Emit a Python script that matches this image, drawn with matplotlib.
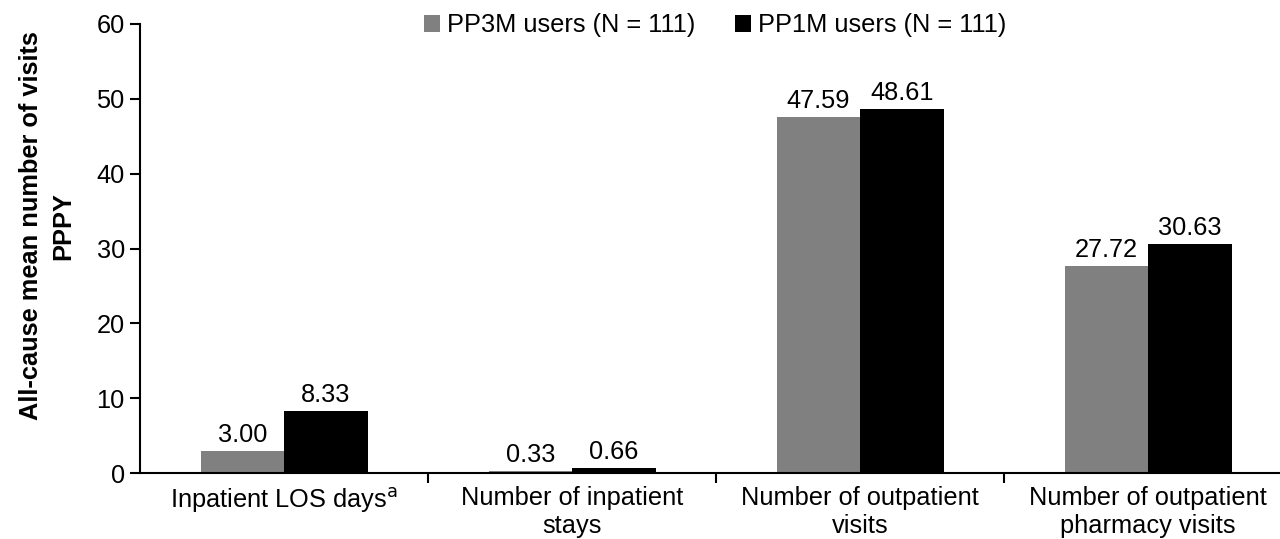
import numpy as np
import matplotlib.pyplot as plt

plt.rcParams['font.family'] = ['Liberation Sans', 'DejaVu Sans']

categories = ["Inpatient LOS days$^{\\mathrm{a}}$", "Number of inpatient\nstays",
              "Number of outpatient\nvisits", "Number of outpatient\npharmacy visits"]
pp3m = [3.00, 0.33, 47.59, 27.72]
pp1m = [8.33, 0.66, 48.61, 30.63]
series_names = ["PP3M users (N = 111)", "PP1M users (N = 111)"]

FS = 18.3

fig = plt.figure(figsize=(12.8, 5.39), dpi=100)
ax = fig.add_axes([0.1094, 0.1224, 0.8906, 0.8331])

x = np.arange(len(categories))
w = 0.29
b1 = ax.bar(x - w / 2, pp3m, w, color='#808080', label=series_names[0])
b2 = ax.bar(x + w / 2, pp1m, w, color='black', label=series_names[1])

for bars, vals in ((b1, pp3m), (b2, pp1m)):
    for bar, v in zip(bars, vals):
        ax.text(bar.get_x() + bar.get_width() / 2, v + 0.5, f"{v:.2f}",
                ha='center', va='bottom', fontsize=FS)

ax.set_xlim(-0.5, 3.458)
ax.set_ylim(0, 60)
ax.set_yticks(range(0, 61, 10))
ax.tick_params(axis='y', labelsize=FS, length=7, width=1.5, direction='out', pad=4)

# category labels centered, ticks between categories
ax.set_xticks([0.5, 1.5, 2.5])
ax.set_xticklabels([])
ax.tick_params(axis='x', length=7, width=1.5, direction='out')
for xi, lab in zip(x, categories):
    ax.text(xi, -1.7, lab, ha='center', va='top', fontsize=FS, linespacing=1.25)

for s in ('top', 'right'):
    ax.spines[s].set_visible(False)
for s in ('left', 'bottom'):
    ax.spines[s].set_linewidth(1.5)

ax.set_ylabel("All-cause mean number of visits\nPPPY", fontsize=FS, fontweight='bold',
              linespacing=1.4)
ax.yaxis.set_label_coords(-0.057, 0.55)

fig.legend(loc='upper center', bbox_to_anchor=(0.5586, 1.018), ncol=2, frameon=False,
           fontsize=FS, handlelength=0.63, handleheight=0.63, handletextpad=0.28,
           columnspacing=1.57)

fig.savefig("out.png", dpi=100)
